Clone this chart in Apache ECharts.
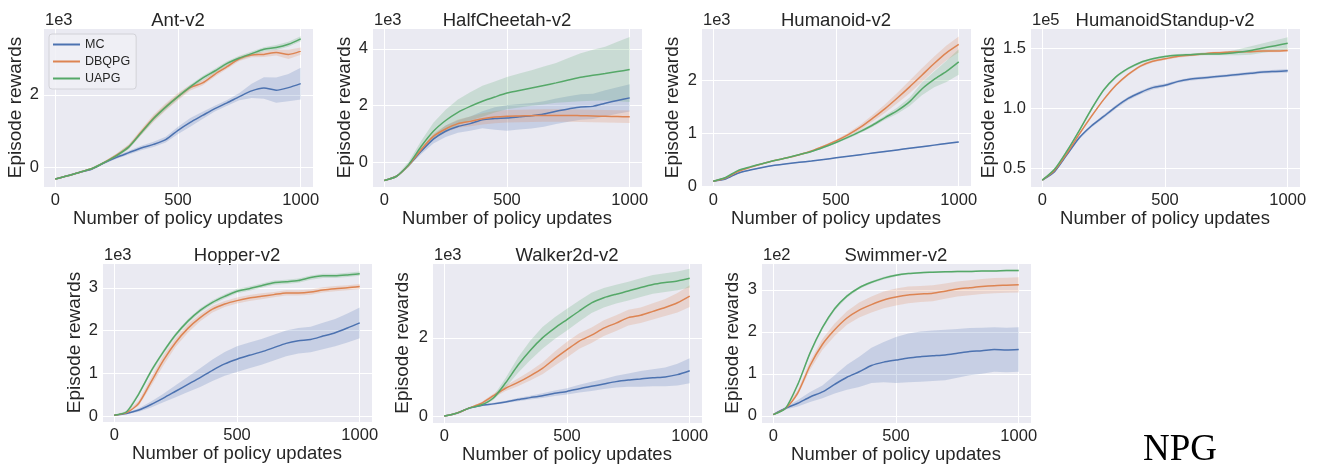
<!DOCTYPE html>
<html><head><meta charset="utf-8">
<script src="https://cdn.jsdelivr.net/npm/echarts@6/dist/echarts.min.js"></script>
<style>html,body{margin:0;padding:0;background:#fff}#c{width:1318px;height:467px}</style>
</head><body><div id="c"></div>
<script>
// ---------- DATA (values in the units shown on each axis, see scale labels) ----------
const steps = [0,50,100,150,200,250,300,350,400,450,500,550,600,650,700,750,800,850,900,950,1000];
const seriesNames = ['MC','DBQPG','UAPG'];
const envTitles = ['Ant-v2','HalfCheetah-v2','Humanoid-v2','HumanoidStandup-v2','Hopper-v2','Walker2d-v2','Swimmer-v2'];
const scaleLabels = ['1e3','1e3','1e3','1e5','1e3','1e3','1e2'];
const xTickLabels = [0,500,1000];

// Ant-v2 (x1e3)
const antMC     = [-0.33,-0.24,-0.14,-0.05,0.12,0.27,0.40,0.53,0.63,0.76,1.02,1.24,1.43,1.62,1.78,1.95,2.11,2.19,2.13,2.20,2.31];
const antMCsd   = [0.02,0.02,0.02,0.03,0.03,0.04,0.05,0.06,0.07,0.08,0.10,0.12,0.10,0.08,0.08,0.10,0.20,0.30,0.35,0.38,0.44];
const antDB     = [-0.33,-0.24,-0.14,-0.04,0.13,0.33,0.57,0.97,1.35,1.67,1.95,2.20,2.33,2.57,2.78,3.00,3.10,3.12,3.17,3.12,3.21];
const antDBsd   = [0.02,0.02,0.02,0.03,0.03,0.05,0.06,0.08,0.10,0.10,0.10,0.08,0.07,0.07,0.06,0.06,0.06,0.07,0.08,0.13,0.10];
const antUA     = [-0.33,-0.24,-0.14,-0.04,0.13,0.32,0.56,0.95,1.34,1.66,1.95,2.22,2.46,2.66,2.87,3.02,3.14,3.26,3.31,3.40,3.55];
const antUAsd   = [0.02,0.02,0.02,0.03,0.03,0.05,0.06,0.06,0.07,0.07,0.07,0.06,0.06,0.06,0.06,0.06,0.06,0.06,0.07,0.07,0.07];

// HalfCheetah-v2 (x1e3)
const hcMC      = [-0.65,-0.50,-0.10,0.38,0.81,1.09,1.26,1.36,1.50,1.54,1.56,1.60,1.64,1.70,1.80,1.88,1.95,1.97,2.08,2.18,2.27];
const hcMCsd    = [0.00,0.02,0.05,0.10,0.15,0.20,0.22,0.25,0.30,0.40,0.45,0.45,0.45,0.45,0.45,0.45,0.45,0.45,0.46,0.47,0.48];
const hcDB      = [-0.65,-0.50,-0.10,0.44,0.91,1.17,1.36,1.44,1.53,1.59,1.62,1.63,1.64,1.65,1.65,1.65,1.64,1.63,1.62,1.61,1.60];
const hcDBsd    = [0.00,0.02,0.05,0.08,0.10,0.12,0.15,0.17,0.20,0.22,0.22,0.22,0.22,0.22,0.22,0.22,0.22,0.22,0.22,0.22,0.22];
const hcUA      = [-0.65,-0.50,-0.08,0.55,1.09,1.47,1.76,1.97,2.15,2.30,2.44,2.53,2.62,2.71,2.80,2.90,3.00,3.07,3.13,3.20,3.27];
const hcUAsd    = [0.00,0.03,0.10,0.20,0.30,0.38,0.45,0.50,0.55,0.55,0.57,0.60,0.63,0.67,0.70,0.78,0.85,0.90,0.95,1.05,1.15];

// Humanoid-v2 (x1e3)
const huMC      = [0.10,0.14,0.25,0.31,0.36,0.40,0.43,0.455,0.48,0.51,0.54,0.57,0.60,0.63,0.66,0.69,0.72,0.75,0.78,0.81,0.84];
const huMCsd    = [0.01,0.01,0.01,0.01,0.01,0.01,0.01,0.01,0.01,0.01,0.01,0.01,0.012,0.012,0.012,0.013,0.013,0.014,0.014,0.015,0.015];
const huDB      = [0.10,0.16,0.28,0.36,0.43,0.49,0.54,0.60,0.67,0.76,0.86,0.98,1.12,1.29,1.47,1.67,1.88,2.10,2.32,2.52,2.68];
const huDBsd    = [0.01,0.01,0.01,0.01,0.01,0.01,0.01,0.012,0.015,0.02,0.02,0.035,0.05,0.065,0.08,0.1,0.12,0.13,0.13,0.14,0.15];
const huUA      = [0.10,0.17,0.30,0.37,0.43,0.49,0.54,0.60,0.66,0.74,0.83,0.93,1.04,1.16,1.30,1.43,1.60,1.84,2.02,2.17,2.35];
const huUAsd    = [0.01,0.01,0.01,0.01,0.01,0.01,0.01,0.01,0.012,0.015,0.02,0.025,0.03,0.035,0.04,0.06,0.08,0.12,0.15,0.20,0.24];

// HumanoidStandup-v2 (x1e5)
const hsMC      = [0.40,0.47,0.61,0.75,0.85,0.93,1.01,1.08,1.13,1.17,1.19,1.22,1.24,1.25,1.26,1.27,1.28,1.29,1.30,1.305,1.31];
const hsMCsd    = [0.003,0.005,0.01,0.012,0.013,0.015,0.015,0.015,0.015,0.015,0.015,0.012,0.012,0.012,0.012,0.012,0.012,0.012,0.013,0.014,0.015];
const hsDB      = [0.40,0.48,0.62,0.78,0.93,1.07,1.19,1.28,1.35,1.39,1.41,1.43,1.44,1.45,1.46,1.465,1.47,1.47,1.475,1.475,1.48];
const hsDBsd    = [0.003,0.005,0.008,0.01,0.01,0.01,0.01,0.01,0.01,0.01,0.01,0.01,0.01,0.01,0.01,0.01,0.01,0.01,0.01,0.01,0.01];
const hsUA      = [0.40,0.49,0.64,0.81,0.99,1.15,1.26,1.33,1.38,1.41,1.43,1.44,1.445,1.45,1.45,1.455,1.465,1.48,1.50,1.52,1.54];
const hsUAsd    = [0.003,0.005,0.008,0.01,0.01,0.01,0.01,0.01,0.01,0.01,0.01,0.01,0.01,0.01,0.01,0.015,0.025,0.035,0.04,0.045,0.05];

// Hopper-v2 (x1e3)
const hoMC      = [0.02,0.06,0.14,0.27,0.42,0.58,0.74,0.90,1.07,1.22,1.33,1.42,1.50,1.60,1.70,1.76,1.79,1.87,1.95,2.06,2.18];
const hoMCsd    = [0.01,0.02,0.04,0.07,0.10,0.14,0.18,0.22,0.25,0.28,0.30,0.30,0.30,0.30,0.30,0.30,0.30,0.31,0.32,0.34,0.36];
const hoDB      = [0.02,0.08,0.30,0.80,1.30,1.72,2.05,2.30,2.50,2.62,2.70,2.76,2.80,2.84,2.88,2.88,2.90,2.95,2.98,3.00,3.03];
const hoDBsd    = [0.01,0.02,0.06,0.10,0.12,0.10,0.10,0.08,0.08,0.07,0.07,0.07,0.07,0.06,0.06,0.06,0.06,0.06,0.06,0.06,0.06];
const hoUA      = [0.02,0.10,0.52,1.05,1.50,1.90,2.22,2.47,2.66,2.80,2.92,2.98,3.05,3.12,3.14,3.17,3.24,3.28,3.28,3.30,3.33];
const hoUAsd    = [0.01,0.02,0.04,0.05,0.05,0.05,0.05,0.05,0.05,0.05,0.05,0.05,0.05,0.05,0.05,0.05,0.05,0.05,0.05,0.05,0.05];

// Walker2d-v2 (x1e3)
const waMC      = [0.00,0.07,0.20,0.27,0.31,0.36,0.42,0.47,0.52,0.58,0.63,0.70,0.76,0.82,0.88,0.92,0.95,0.98,1.00,1.06,1.16];
const waMCsd    = [0.00,0.01,0.02,0.02,0.03,0.03,0.04,0.05,0.06,0.07,0.08,0.10,0.12,0.13,0.15,0.17,0.20,0.22,0.24,0.28,0.32];
const waDB      = [0.00,0.07,0.20,0.32,0.52,0.71,0.86,1.03,1.22,1.47,1.70,1.92,2.07,2.25,2.38,2.52,2.58,2.68,2.78,2.90,3.07];
const waDBsd    = [0.00,0.01,0.02,0.03,0.05,0.07,0.10,0.12,0.15,0.18,0.20,0.20,0.20,0.20,0.20,0.20,0.20,0.21,0.22,0.25,0.28];
const waUA      = [0.00,0.07,0.20,0.28,0.46,0.85,1.30,1.68,2.00,2.25,2.47,2.69,2.90,3.03,3.12,3.20,3.29,3.37,3.42,3.46,3.53];
const waUAsd    = [0.00,0.01,0.02,0.03,0.05,0.12,0.20,0.25,0.28,0.28,0.28,0.27,0.26,0.25,0.24,0.24,0.24,0.24,0.24,0.24,0.24];

// Swimmer-v2 (x1e2)
const swMC      = [0.03,0.18,0.30,0.45,0.57,0.75,0.92,1.05,1.20,1.28,1.33,1.38,1.41,1.43,1.45,1.49,1.53,1.55,1.58,1.57,1.58];
const swMCsd    = [0.00,0.03,0.08,0.12,0.15,0.22,0.30,0.36,0.42,0.48,0.55,0.58,0.60,0.60,0.60,0.58,0.56,0.55,0.53,0.53,0.53];
const swDB      = [0.03,0.18,0.55,1.20,1.70,2.05,2.33,2.52,2.65,2.76,2.83,2.88,2.90,2.92,2.97,3.02,3.05,3.08,3.10,3.11,3.12];
const swDBsd    = [0.00,0.02,0.06,0.10,0.13,0.15,0.16,0.18,0.19,0.20,0.20,0.20,0.19,0.19,0.18,0.18,0.18,0.18,0.18,0.18,0.18];
const swUA      = [0.03,0.18,0.75,1.50,2.10,2.55,2.85,3.05,3.18,3.28,3.35,3.39,3.41,3.42,3.43,3.44,3.44,3.45,3.45,3.46,3.46];
const swUAsd    = [0.00,0.01,0.03,0.04,0.04,0.04,0.04,0.03,0.03,0.03,0.03,0.02,0.02,0.02,0.02,0.02,0.02,0.02,0.02,0.02,0.02];

// y-axis view ranges (display units)
const yMins = [-0.55,-0.88,-0.01,0.342,-0.14,-0.18,-0.17];
const yMaxs = [3.85,4.74,2.99,1.667,3.58,3.92,3.64];
const yDecimals = [0,0,0,1,0,0,0];

// ---------- LAYOUT / STYLE ----------
const FONT = "'Liberation Sans', Arial, sans-serif";
const TXT = '#262626';
const COLORS = ['#4C72B0','#DD8452','#55A868'];
const grids = [
  {left:43, top:28, width:270, height:159, name:18},
  {left:372, top:28, width:270, height:159, name:18},
  {left:701, top:28, width:270, height:159, name:19},
  {left:1030, top:28, width:270, height:159, name:32},
  {left:102, top:263, width:270, height:159, name:18},
  {left:432, top:263, width:270, height:160, name:20},
  {left:761, top:263, width:270, height:160, name:19}
];
const envData = [
  [[antMC,antMCsd],[antDB,antDBsd],[antUA,antUAsd]],
  [[hcMC,hcMCsd],[hcDB,hcDBsd],[hcUA,hcUAsd]],
  [[huMC,huMCsd],[huDB,huDBsd],[huUA,huUAsd]],
  [[hsMC,hsMCsd],[hsDB,hsDBsd],[hsUA,hsUAsd]],
  [[hoMC,hoMCsd],[hoDB,hoDBsd],[hoUA,hoUAsd]],
  [[waMC,waMCsd],[waDB,waDBsd],[waUA,waUAsd]],
  [[swMC,swMCsd],[swDB,swDBsd],[swUA,swUAsd]]
];

function hexA(hex, a){
  const n = parseInt(hex.slice(1),16);
  return 'rgba(' + ((n>>16)&255) + ',' + ((n>>8)&255) + ',' + (n&255) + ',' + a + ')';
}

function bandSeries(gi, mean, sd, color){
  const data = steps.map((x,i)=>[x, mean[i]-sd[i], mean[i]+sd[i]]);
  return {
    type:'custom', xAxisIndex:gi, yAxisIndex:gi, silent:true, z:1, clip:true,
    encode:{x:0, y:[1,2]}, data:data,
    renderItem:function(params, api){
      if (params.dataIndex !== 0) return;
      const up = data.map(d=>api.coord([d[0], d[2]]));
      const lo = data.map(d=>api.coord([d[0], d[1]])).reverse();
      return {type:'polygon', shape:{points: up.concat(lo)}, style:{fill: hexA(color, 0.22)}};
    }
  };
}

const option = {
  animation:false,
  backgroundColor:'#ffffff',
  textStyle:{fontFamily:FONT},
  grid:[], xAxis:[], yAxis:[], series:[], graphic:[],
  legend:{
    data:seriesNames, orient:'vertical', left:49, top:34,
    icon:'rect', itemWidth:27, itemHeight:2, itemGap:4, itemTextGap:9,
    padding:[4,6,4,4], backgroundColor:'rgba(240,240,246,0.85)',
    borderColor:'#d2d2d8', borderWidth:1, borderRadius:3,
    textStyle:{fontSize:12.5, color:TXT, fontFamily:FONT}, selectedMode:false
  }
};

grids.forEach((g,gi)=>{
  option.grid.push({left:g.left, top:g.top, width:g.width, height:g.height, show:true,
    backgroundColor:'#EAEAF2', borderWidth:0, containLabel:false});
  option.xAxis.push({
    type:'value', gridIndex:gi, min:-50, max:1050, splitNumber:2,
    axisLine:{show:false}, axisTick:{show:false},
    axisLabel:{fontSize:16.5, color:TXT, margin:5, fontFamily:FONT, showMinLabel:false, showMaxLabel:false,
      formatter:function(v){ return xTickLabels.indexOf(v) >= 0 ? String(v) : ''; }},
    splitLine:{show:true, lineStyle:{color:'#ffffff', width:1}},
    name:'Number of policy updates', nameLocation:'middle', nameGap:21,
    nameTextStyle:{fontSize:18.5, color:TXT, fontFamily:FONT}
  });
  option.yAxis.push({
    type:'value', gridIndex:gi, min:yMins[gi], max:yMaxs[gi],
    splitNumber: [2,3,3,3,4,2,4][gi],
    axisLine:{show:false}, axisTick:{show:false},
    axisLabel:{fontSize:16.5, color:TXT, margin:4, fontFamily:FONT, showMinLabel:false, showMaxLabel:false,
      formatter:function(v){ return v.toFixed(yDecimals[gi]); }},
    splitLine:{show:true, lineStyle:{color:'#ffffff', width:1}},
    name:'Episode rewards', nameLocation:'middle', nameGap:g.name, nameRotate:90,
    nameTextStyle:{fontSize:19, color:TXT, fontFamily:FONT}
  });
  envData[gi].forEach((pair,si)=>{
    option.series.push(bandSeries(gi, pair[0], pair[1], COLORS[si]));
  });
  envData[gi].forEach((pair,si)=>{
    option.series.push({
      type:'line', name:seriesNames[si], xAxisIndex:gi, yAxisIndex:gi,
      data:steps.map((x,i)=>[x, pair[0][i]]), showSymbol:false, symbol:'none',
      smooth:0.25, z:3, silent:true,
      lineStyle:{width:1.5, color:COLORS[si]}, itemStyle:{color:COLORS[si]}
    });
  });
  const cx = g.left + g.width/2;
  const ty = g.top - 7.5;
  option.graphic.push({type:'text', x:cx, y:ty, silent:true,
    style:{text:envTitles[gi], x:0, y:0, align:'center', verticalAlign:'middle', fontSize:18.5, fontFamily:FONT, fill:TXT}});
  option.graphic.push({type:'text', x:g.left+2, y:ty, silent:true,
    style:{text:scaleLabels[gi], x:0, y:0, align:'left', verticalAlign:'middle', fontSize:16.5, fontFamily:FONT, fill:TXT}});
});

option.graphic.push({type:'text', x:1180, y:450, silent:true,
  style:{text:'NPG', align:'center', verticalAlign:'middle', fontSize:37, fontFamily:"'Liberation Serif', 'Times New Roman', serif", fill:'#000'}});

const chart = echarts.init(document.getElementById('c'), null, {renderer:'canvas'});
chart.setOption(option);
</script>
</body></html>
